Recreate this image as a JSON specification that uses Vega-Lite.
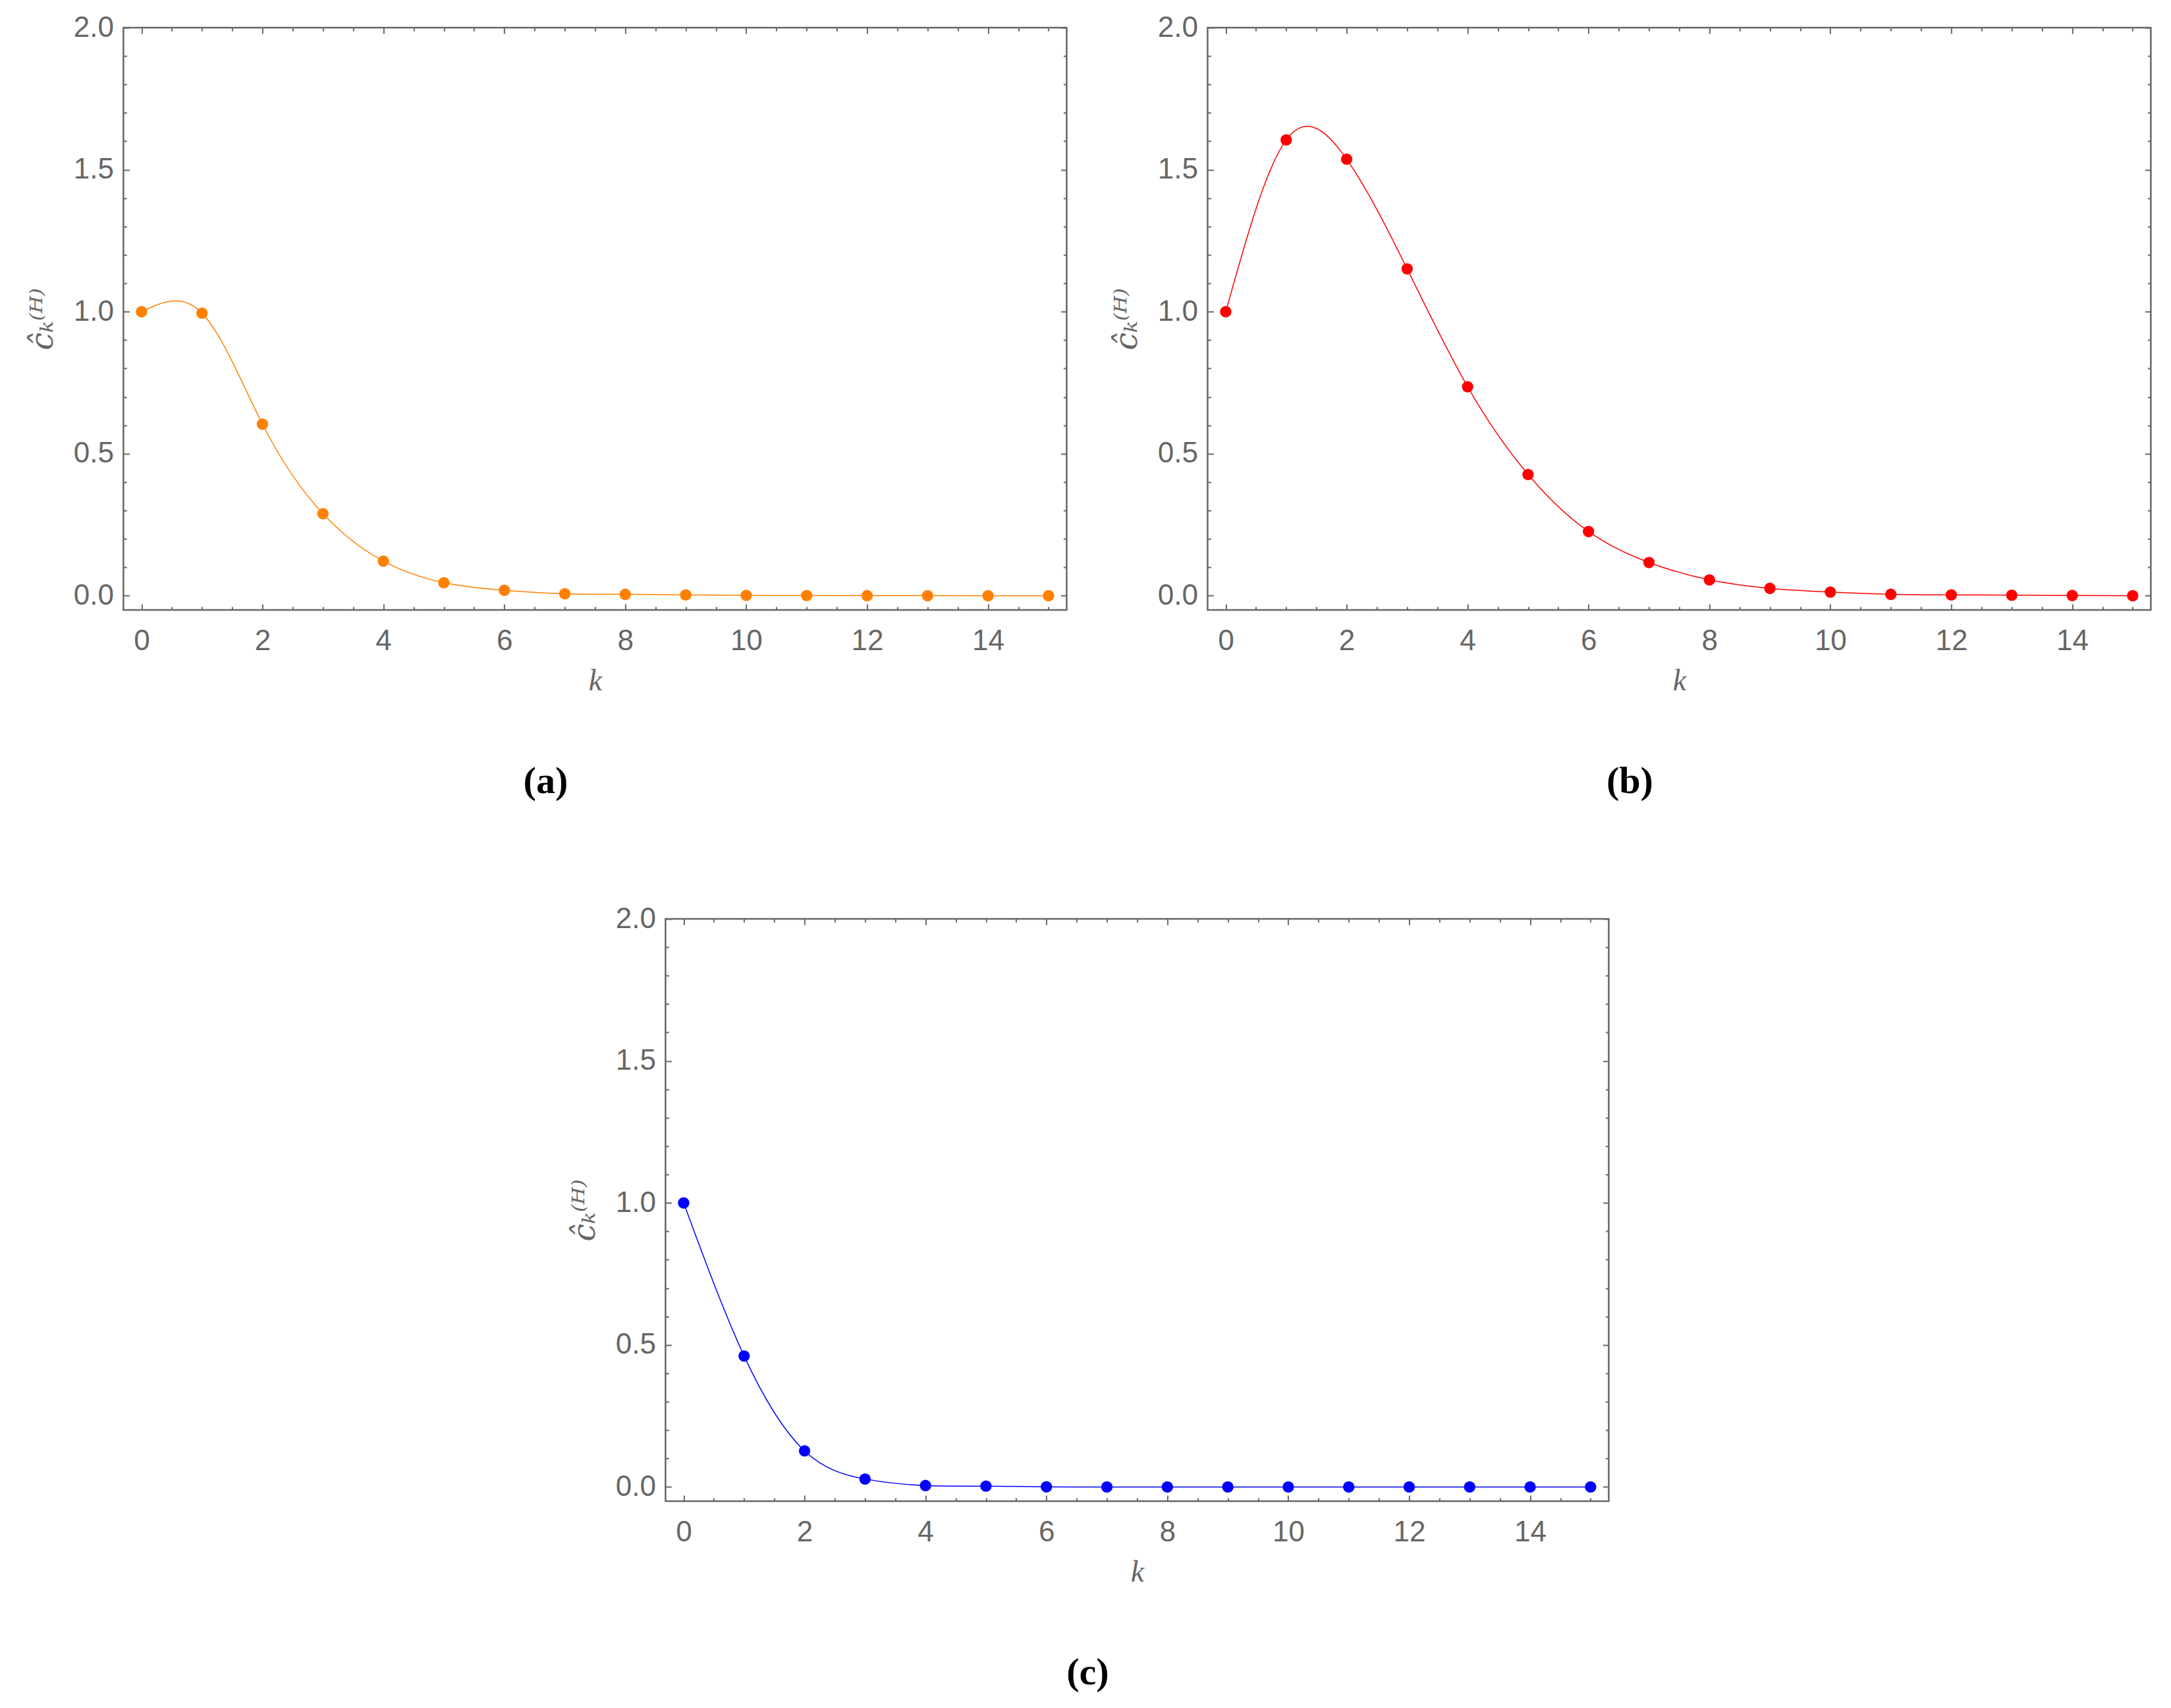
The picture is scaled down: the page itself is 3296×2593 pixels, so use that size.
{
  "$schema": "https://vega.github.io/schema/vega-lite/v6.json",
  "padding": {"left": 39, "top": 18, "right": 0, "bottom": 0},
  "datasets": {
    "a": [
      {"k": 0, "c": 1.0}, {"k": 1, "c": 0.995}, {"k": 2, "c": 0.604}, {"k": 3, "c": 0.289},
      {"k": 4, "c": 0.122}, {"k": 5, "c": 0.046}, {"k": 6, "c": 0.019}, {"k": 7, "c": 0.007},
      {"k": 8, "c": 0.005}, {"k": 9, "c": 0.003}, {"k": 10, "c": 0.0015}, {"k": 11, "c": 0.0008},
      {"k": 12, "c": 0.0004}, {"k": 13, "c": 0.0002}, {"k": 14, "c": 0.0001}, {"k": 15, "c": 0.0}
    ],
    "b": [
      {"k": 0, "c": 1.0}, {"k": 1, "c": 1.605}, {"k": 2, "c": 1.537}, {"k": 3, "c": 1.151},
      {"k": 4, "c": 0.736}, {"k": 5, "c": 0.427}, {"k": 6, "c": 0.226}, {"k": 7, "c": 0.117},
      {"k": 8, "c": 0.056}, {"k": 9, "c": 0.026}, {"k": 10, "c": 0.013}, {"k": 11, "c": 0.005},
      {"k": 12, "c": 0.003}, {"k": 13, "c": 0.002}, {"k": 14, "c": 0.001}, {"k": 15, "c": 0.0}
    ],
    "c": [
      {"k": 0, "c": 1.0}, {"k": 1, "c": 0.461}, {"k": 2, "c": 0.127}, {"k": 3, "c": 0.028},
      {"k": 4, "c": 0.005}, {"k": 5, "c": 0.003}, {"k": 6, "c": 0.0005}, {"k": 7, "c": 0.0001},
      {"k": 8, "c": 0.0}, {"k": 9, "c": 0.0}, {"k": 10, "c": 0.0}, {"k": 11, "c": 0.0},
      {"k": 12, "c": 0.0}, {"k": 13, "c": 0.0}, {"k": 14, "c": 0.0}, {"k": 15, "c": 0.0}
    ]
  },
  "vconcat": [
    {
      "hconcat": [
        {
          "data": {"name": "a"},
          "width": 1432,
          "height": 884,
          "title": "(a)",
          "layer": [
            {
              "mark": {"type": "line", "interpolate": "natural", "color": "#FF8000", "strokeWidth": 1.5},
              "encoding": {
                "x": {"field": "k", "type": "quantitative", "scale": {"domain": [-0.3, 15.3], "nice": false, "zero": false},
                  "axis": {"orient": "bottom", "title": "k", "titleFont": "Liberation Serif", "titleFontStyle": "italic", "titleFontSize": 46, "titlePadding": 12,
                    "values": [0,0.5,1,1.5,2,2.5,3,3.5,4,4.5,5,5.5,6,6.5,7,7.5,8,8.5,9,9.5,10,10.5,11,11.5,12,12.5,13,13.5,14,14.5,15],
                    "labelExpr": "datum.value % 2 === 0 ? format(datum.value, 'd') : ''",
                    "tickSize": {"condition": {"test": "datum.value % 2 === 0", "value": -9}, "value": -5},
                    "labelPadding": 34}},
                "y": {"field": "c", "type": "quantitative", "scale": {"domain": [-0.05, 2.0], "nice": false, "zero": false},
                  "axis": {"orient": "left", "title": "ĉₖ⁽ᴴ⁾", "titleFont": "DejaVu Serif", "titleFontStyle": "italic", "titleFontSize": 48, "titlePadding": 22,
                    "values": [0,0.1,0.2,0.3,0.4,0.5,0.6,0.7,0.8,0.9,1,1.1,1.2,1.3,1.4,1.5,1.6,1.7,1.8,1.9,2],
                    "labelExpr": "abs(datum.value * 2 - round(datum.value * 2)) < 0.001 ? format(datum.value, '.1f') : ''",
                    "tickSize": {"condition": {"test": "abs(datum.value * 2 - round(datum.value * 2)) < 0.001", "value": -9}, "value": -5},
                    "labelPadding": 24}}
              }
            },
            {
              "mark": {"type": "point", "filled": true, "opacity": 1, "size": 300, "color": "#FF8000"},
              "encoding": {
                "x": {"field": "k", "type": "quantitative",
                  "axis": {"orient": "top", "title": null, "labels": false,
                    "values": [0,0.5,1,1.5,2,2.5,3,3.5,4,4.5,5,5.5,6,6.5,7,7.5,8,8.5,9,9.5,10,10.5,11,11.5,12,12.5,13,13.5,14,14.5,15],
                    "tickSize": {"condition": {"test": "datum.value % 2 === 0", "value": -9}, "value": -5}}},
                "y": {"field": "c", "type": "quantitative",
                  "axis": {"orient": "right", "title": null, "labels": false,
                    "values": [0,0.1,0.2,0.3,0.4,0.5,0.6,0.7,0.8,0.9,1,1.1,1.2,1.3,1.4,1.5,1.6,1.7,1.8,1.9,2],
                    "tickSize": {"condition": {"test": "abs(datum.value * 2 - round(datum.value * 2)) < 0.001", "value": -9}, "value": -5}}}
              }
            }
          ],
          "resolve": {"axis": {"x": "independent", "y": "independent"}}
        },
        {
          "data": {"name": "b"},
          "width": 1432,
          "height": 884,
          "title": "(b)",
          "layer": [
            {
              "mark": {"type": "line", "interpolate": "natural", "color": "#FF0000", "strokeWidth": 1.5},
              "encoding": {
                "x": {"field": "k", "type": "quantitative", "scale": {"domain": [-0.3, 15.3], "nice": false, "zero": false},
                  "axis": {"orient": "bottom", "title": "k", "titleFont": "Liberation Serif", "titleFontStyle": "italic", "titleFontSize": 46, "titlePadding": 12,
                    "values": [0,0.5,1,1.5,2,2.5,3,3.5,4,4.5,5,5.5,6,6.5,7,7.5,8,8.5,9,9.5,10,10.5,11,11.5,12,12.5,13,13.5,14,14.5,15],
                    "labelExpr": "datum.value % 2 === 0 ? format(datum.value, 'd') : ''",
                    "tickSize": {"condition": {"test": "datum.value % 2 === 0", "value": -9}, "value": -5},
                    "labelPadding": 34}},
                "y": {"field": "c", "type": "quantitative", "scale": {"domain": [-0.05, 2.0], "nice": false, "zero": false},
                  "axis": {"orient": "left", "title": "ĉₖ⁽ᴴ⁾", "titleFont": "DejaVu Serif", "titleFontStyle": "italic", "titleFontSize": 48, "titlePadding": 22,
                    "values": [0,0.1,0.2,0.3,0.4,0.5,0.6,0.7,0.8,0.9,1,1.1,1.2,1.3,1.4,1.5,1.6,1.7,1.8,1.9,2],
                    "labelExpr": "abs(datum.value * 2 - round(datum.value * 2)) < 0.001 ? format(datum.value, '.1f') : ''",
                    "tickSize": {"condition": {"test": "abs(datum.value * 2 - round(datum.value * 2)) < 0.001", "value": -9}, "value": -5},
                    "labelPadding": 24}}
              }
            },
            {
              "mark": {"type": "point", "filled": true, "opacity": 1, "size": 300, "color": "#FF0000"},
              "encoding": {
                "x": {"field": "k", "type": "quantitative",
                  "axis": {"orient": "top", "title": null, "labels": false,
                    "values": [0,0.5,1,1.5,2,2.5,3,3.5,4,4.5,5,5.5,6,6.5,7,7.5,8,8.5,9,9.5,10,10.5,11,11.5,12,12.5,13,13.5,14,14.5,15],
                    "tickSize": {"condition": {"test": "datum.value % 2 === 0", "value": -9}, "value": -5}}},
                "y": {"field": "c", "type": "quantitative",
                  "axis": {"orient": "right", "title": null, "labels": false,
                    "values": [0,0.1,0.2,0.3,0.4,0.5,0.6,0.7,0.8,0.9,1,1.1,1.2,1.3,1.4,1.5,1.6,1.7,1.8,1.9,2],
                    "tickSize": {"condition": {"test": "abs(datum.value * 2 - round(datum.value * 2)) < 0.001", "value": -9}, "value": -5}}}
              }
            }
          ],
          "resolve": {"axis": {"x": "independent", "y": "independent"}}
        }
      ],
      "spacing": 63
    },
    {
      "data": {"name": "c"},
      "width": 1432,
      "height": 884,
      "title": "(c)",
      "layer": [
        {
          "mark": {"type": "line", "interpolate": "natural", "color": "#0000FF", "strokeWidth": 1.5},
          "encoding": {
            "x": {"field": "k", "type": "quantitative", "scale": {"domain": [-0.3, 15.3], "nice": false, "zero": false},
              "axis": {"orient": "bottom", "title": "k", "titleFont": "Liberation Serif", "titleFontStyle": "italic", "titleFontSize": 46, "titlePadding": 12,
                "values": [0,0.5,1,1.5,2,2.5,3,3.5,4,4.5,5,5.5,6,6.5,7,7.5,8,8.5,9,9.5,10,10.5,11,11.5,12,12.5,13,13.5,14,14.5,15],
                "labelExpr": "datum.value % 2 === 0 ? format(datum.value, 'd') : ''",
                "tickSize": {"condition": {"test": "datum.value % 2 === 0", "value": -9}, "value": -5},
                "labelPadding": 34}},
            "y": {"field": "c", "type": "quantitative", "scale": {"domain": [-0.05, 2.0], "nice": false, "zero": false},
              "axis": {"orient": "left", "title": "ĉₖ⁽ᴴ⁾", "titleFont": "DejaVu Serif", "titleFontStyle": "italic", "titleFontSize": 48, "titlePadding": 22,
                "values": [0,0.1,0.2,0.3,0.4,0.5,0.6,0.7,0.8,0.9,1,1.1,1.2,1.3,1.4,1.5,1.6,1.7,1.8,1.9,2],
                "labelExpr": "abs(datum.value * 2 - round(datum.value * 2)) < 0.001 ? format(datum.value, '.1f') : ''",
                "tickSize": {"condition": {"test": "abs(datum.value * 2 - round(datum.value * 2)) < 0.001", "value": -9}, "value": -5},
                "labelPadding": 24}}
          }
        },
        {
          "mark": {"type": "point", "filled": true, "opacity": 1, "size": 300, "color": "#0000FF"},
          "encoding": {
            "x": {"field": "k", "type": "quantitative",
              "axis": {"orient": "top", "title": null, "labels": false,
                "values": [0,0.5,1,1.5,2,2.5,3,3.5,4,4.5,5,5.5,6,6.5,7,7.5,8,8.5,9,9.5,10,10.5,11,11.5,12,12.5,13,13.5,14,14.5,15],
                "tickSize": {"condition": {"test": "datum.value % 2 === 0", "value": -9}, "value": -5}}},
            "y": {"field": "c", "type": "quantitative",
              "axis": {"orient": "right", "title": null, "labels": false,
                "values": [0,0.1,0.2,0.3,0.4,0.5,0.6,0.7,0.8,0.9,1,1.1,1.2,1.3,1.4,1.5,1.6,1.7,1.8,1.9,2],
                "tickSize": {"condition": {"test": "abs(datum.value * 2 - round(datum.value * 2)) < 0.001", "value": -9}, "value": -5}}}
          }
        }
      ],
      "resolve": {"axis": {"x": "independent", "y": "independent"}}
    }
  ],
  "spacing": 153,
  "center": true,
  "config": {
    "background": "white",
    "view": {"stroke": "#666666", "strokeWidth": 2.5},
    "axis": {
      "domain": false,
      "grid": false,
      "tickColor": "#666666",
      "tickWidth": 2,
      "labelColor": "#666666",
      "labelFont": "Liberation Sans",
      "labelFontSize": 44,
      "labelFlush": false,
      "labelOverlap": false,
      "titleColor": "#666666",
      "titleFontWeight": "normal"
    },
    "title": {
      "orient": "bottom",
      "anchor": "middle",
      "frame": "group",
      "dx": -75,
      "offset": 102,
      "font": "Liberation Serif",
      "fontWeight": "bold",
      "fontSize": 58,
      "color": "#000000"
    }
  }
}
